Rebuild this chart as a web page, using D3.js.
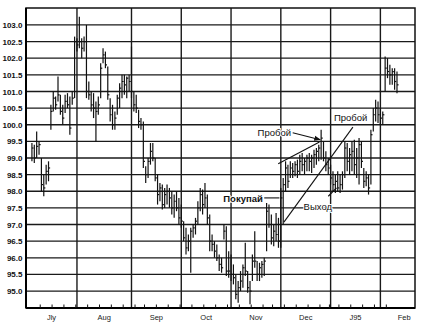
<!DOCTYPE html>
<html><head><meta charset="utf-8">
<script src="https://cdn.jsdelivr.net/npm/d3@7"></script>
<style>body{margin:0;background:#fff}svg{display:block}</style>
</head><body><svg id="c" width="425" height="331"></svg>
<script>
// ---- data ----
const firstDay = "1994-07-05";
const holidays = ["1994-09-05","1994-11-24","1994-12-26","1995-01-02"];
const highs = [
 99.45,99.4,99.8,99.5, 99.0,98.5,98.8,98.9,100.6,
 101.0,100.85,101.45,100.9,100.6, 100.9,100.95,100.85,101.0,102.65,
 102.6,103.25,102.6,102.65,103.0, 101.3,101.0,100.95,100.7,100.85,
 101.85,102.3,102.2,101.75,100.8, 100.6,100.4,100.9,101.25,101.5,
 101.5,101.45,101.5, 102.35,101.0, 100.9,100.45,100.2,100.1,
 98.75,99.0,99.45,99.45,99.0, 98.5,98.25,98.2,98.1,98.2,
 98.1,98.0,97.9,98.0,97.8, 97.6,97.1,96.9,96.7,96.9,
 97.0,97.2,97.7,98.1,98.05, 98.25,97.9,97.3,96.7,96.5,
 96.4,96.1,96.0,97.0,96.95, 96.2,
 96.1,95.8,95.5,95.3, 95.6,95.8,96.45,95.6,95.3,
 96.1,96.8,95.9,95.85,95.9, 96.0,97.65,97.6,97.3,
 97.0,97.35,97.2, 98.1,98.4,
 98.9,98.8,98.9,98.85,98.9, 98.95,99.1,99.15,99.0,99.1,
 99.15,99.1,99.25,99.3,99.4, 99.85,99.5,99.2,99.0,
 98.8,98.6,98.5,98.6, 98.5,98.6,99.5,99.45,99.3,
 99.5,99.55,99.3,99.6,99.5, 98.7,98.6,98.5,99.85,100.5,
 100.75,100.7, 100.5,100.4,102.05, 102.0,101.8,101.7,101.7,101.6];
const lows = [
 98.9,98.85,99.0,99.1, 98.0,97.85,98.2,98.3,99.85,
 100.4,100.45,100.7,100.3,100.0, 100.35,100.5,99.7,100.6,100.8,
 102.2,102.3,102.0,102.2,100.8, 100.75,100.4,100.2,99.5,100.3,
 100.8,101.85,101.7,100.75,100.1, 99.85,99.85,100.3,100.5,100.8,
 100.9,100.8,101.0, 100.8,100.4, 100.35,99.9,99.85,98.7,
 98.25,98.4,98.8,98.9,98.3, 97.6,97.7,97.45,97.5,97.6,
 97.5,97.3,97.2,97.4,97.0, 96.9,96.5,96.1,96.2,95.55,
 96.6,96.7,97.0,97.4,97.3, 97.5,97.0,96.2,96.2,96.0,
 95.9,95.6,95.55,96.55,95.45, 95.4,
 95.3,95.2,94.75,94.65, 95.0,95.1,95.45,94.95,94.6,
 95.3,95.7,95.3,95.3,95.4, 95.45,96.2,96.9,96.4,
 96.35,96.5,96.3, 96.3,97.0,
 98.0,98.1,98.4,98.4,98.45, 98.4,98.5,98.6,98.5,98.6,
 98.6,98.55,98.7,98.8,98.9, 98.95,98.9,98.6,98.5,
 98.2,98.0,97.95,98.0, 97.95,98.05,98.4,98.6,98.5,
 98.6,98.5,98.4,98.2,98.7, 98.1,98.15,97.9,98.2,99.8,
 100.1,100.05, 100.0,100.0,101.0, 101.4,101.2,101.2,101.05,100.95];
const closes = [
 99.3,99.0,99.35,99.4, 98.2,98.1,98.6,98.7,100.4,
 100.8,100.6,100.9,100.4,100.2, 100.7,100.6,99.9,100.8,102.5,
 102.4,102.5,102.3,102.5,101.0, 100.9,100.6,100.5,100.4,100.6,
 101.7,102.1,101.8,100.9,100.3, 100.0,100.2,100.8,101.1,101.3,
 101.2,101.4,101.3, 101.0,100.6, 100.5,100.1,100.0,98.9,
 98.5,98.9,99.2,99.0,98.4, 97.9,98.1,97.6,97.9,98.0,
 97.8,97.5,97.7,97.5,97.2, 97.1,96.6,96.3,96.5,96.8,
 96.9,97.1,97.5,97.9,97.6, 97.8,97.2,96.5,96.4,96.2,
 96.0,95.8,95.7,96.8,95.6, 95.6,
 95.5,95.4,94.9,95.1, 95.3,95.7,95.6,95.1,95.0,
 95.9,95.9,95.5,95.7,95.8, 95.9,97.4,97.0,96.6,
 96.8,96.7,96.5, 97.8,98.2,
 98.7,98.3,98.7,98.6,98.8, 98.6,98.9,98.8,98.9,99.0,
 98.9,99.0,99.1,99.2,99.3, 99.6,99.0,98.8,98.7,
 98.4,98.2,98.3,98.1, 98.2,98.5,99.3,98.9,99.1,
 99.2,98.8,99.0,99.4,98.9, 98.3,98.4,98.1,99.7,100.3,
 100.5,100.3, 100.2,100.3,101.7, 101.6,101.5,101.6,101.3,101.2];
const monthLabels = ["Jly","Aug","Sep","Oct","Nov","Dec","J95","Feb"];
const yTicks = [95.0,95.5,96.0,96.5,97.0,97.5,98.0,98.5,99.0,99.5,100.0,100.5,101.0,101.5,102.0,102.5,103.0];
const notes = [
  {text:"Пробой", i:109.3, p:99.75, anchor:"end", bold:false},
  {text:"Пробой", i:127.4, p:100.2, anchor:"start", bold:false},
  {text:"Покупай", i:97.4, p:97.77, anchor:"end", bold:true},
  {text:"Выход", i:114.6, p:97.55, anchor:"start", bold:false}
];
const noteLines = [
  {i1:110.0, p1:99.76, i2:121.6, p2:99.55, arrow:true},
  {i1:103.9, p1:98.83, i2:121.3, p2:99.48, arrow:false},
  {i1:106.3, p1:97.07, i2:135.4, p2:99.93, arrow:false},
  {i1:98.0, p1:97.8, i2:104.4, p2:97.8, arrow:false},
  {i1:125.0, p1:97.85, i2:128.5, p2:98.1, arrow:false}
];

// ---- trading calendar ----
const hol = new Set(holidays);
const fmt = d3.timeFormat("%Y-%m-%d");
const days = [];
for (let d = new Date(firstDay+"T00:00:00"); days.length < highs.length; d = d3.timeDay.offset(d,1)) {
  const wd = d.getDay();
  if (wd===0 || wd===6 || hol.has(fmt(d))) continue;
  days.push(new Date(d));
}
const bars = days.map((d,i)=>({i, d, h:highs[i], l:lows[i], c:closes[i]}));

// ---- layout ----
const L=26, R=415, T=8, B=308;
const x = d3.scaleLinear().domain([-2.5, 161.6]).range([L, R]);
const y = d3.scaleLinear().domain([94.49, 103.51]).range([B, T]);
const svg = d3.select("#c");

const monthStarts = [];
bars.forEach((b,i)=>{ if (i>0 && b.d.getMonth()!==bars[i-1].d.getMonth()) monthStarts.push(i); });
const weekTicks = [];
bars.forEach((b,i)=>{ if (i<bars.length-1 && d3.timeWeek.count(b.d, bars[i+1].d)>0) weekTicks.push(i); });

const g = svg.append("g");
g.selectAll("line.h").data(yTicks).join("line")
  .attr("x1",L).attr("x2",R).attr("y1",d=>y(d)).attr("y2",d=>y(d))
  .attr("stroke","#1a1a1a").attr("stroke-width",1.3);
g.selectAll("line.v").data(monthStarts).join("line")
  .attr("x1",d=>x(d)).attr("x2",d=>x(d)).attr("y1",T).attr("y2",B)
  .attr("stroke","#1a1a1a").attr("stroke-width",1.4);
svg.append("rect").attr("x",L).attr("y",T).attr("width",R-L).attr("height",B-T)
  .attr("fill","none").attr("stroke","#111").attr("stroke-width",1.5);
svg.append("line").attr("x1",L).attr("x2",R).attr("y1",B).attr("y2",B).attr("stroke","#000").attr("stroke-width",2.2);
svg.append("line").attr("x1",L).attr("x2",L).attr("y1",T).attr("y2",B).attr("stroke","#000").attr("stroke-width",2);

const yAxis = d3.axisLeft(y).tickValues(yTicks).tickFormat(d3.format(".1f")).tickSize(0).tickPadding(3);
const ya = svg.append("g").attr("transform",`translate(${L-0.5},0)`).call(yAxis);
ya.select(".domain").remove();
ya.selectAll("text").attr("font-family","Liberation Sans, Arial, sans-serif").attr("font-size",8)
  .attr("font-weight","bold").attr("fill","#111");

svg.selectAll("line.wk").data(weekTicks).join("line")
  .attr("x1",d=>x(d+0.5)).attr("x2",d=>x(d+0.5)).attr("y1",B-3.5).attr("y2",B)
  .attr("stroke","#111").attr("stroke-width",1);
const bounds = [-2.5, ...monthStarts, 167];
svg.selectAll("text.m").data(monthLabels).join("text")
  .attr("x",(d,k)=>x((bounds[k]+bounds[k+1])/2)).attr("y",319.5)
  .attr("text-anchor","middle").attr("font-family","Liberation Sans, Arial, sans-serif")
  .attr("font-size",7.5).attr("fill","#222").text(d=>d);

const pb = svg.append("g").attr("stroke","#111").attr("stroke-width",1.2);
pb.selectAll("line.b").data(bars).join("line")
  .attr("x1",d=>x(d.i)).attr("x2",d=>x(d.i)).attr("y1",d=>y(d.h)).attr("y2",d=>y(d.l));
pb.selectAll("line.c").data(bars).join("line")
  .attr("x1",d=>x(d.i)).attr("x2",d=>x(d.i)+1.6).attr("y1",d=>y(d.c)).attr("y2",d=>y(d.c));

svg.append("defs").append("marker").attr("id","ah").attr("viewBox","0 0 10 10")
  .attr("refX",9).attr("refY",5).attr("markerWidth",6).attr("markerHeight",6).attr("orient","auto")
  .append("path").attr("d","M0,1L10,5L0,9Z").attr("fill","#111");
svg.selectAll("line.n").data(noteLines).join("line")
  .attr("x1",d=>x(d.i1)).attr("y1",d=>y(d.p1)).attr("x2",d=>x(d.i2)).attr("y2",d=>y(d.p2))
  .attr("stroke","#111").attr("stroke-width",1.1)
  .attr("marker-end",d=>d.arrow?"url(#ah)":null);
svg.selectAll("text.n").data(notes).join("text")
  .attr("x",d=>x(d.i)).attr("y",d=>y(d.p)).attr("dy","0.35em")
  .attr("text-anchor",d=>d.anchor).attr("font-family","Liberation Sans, Arial, sans-serif")
  .attr("font-size",9.5).attr("font-weight",d=>d.bold?"bold":"normal").attr("fill","#111")
  .attr("paint-order","stroke").attr("stroke","#fff").attr("stroke-width",2)
  .text(d=>d.text);
</script></body></html>
